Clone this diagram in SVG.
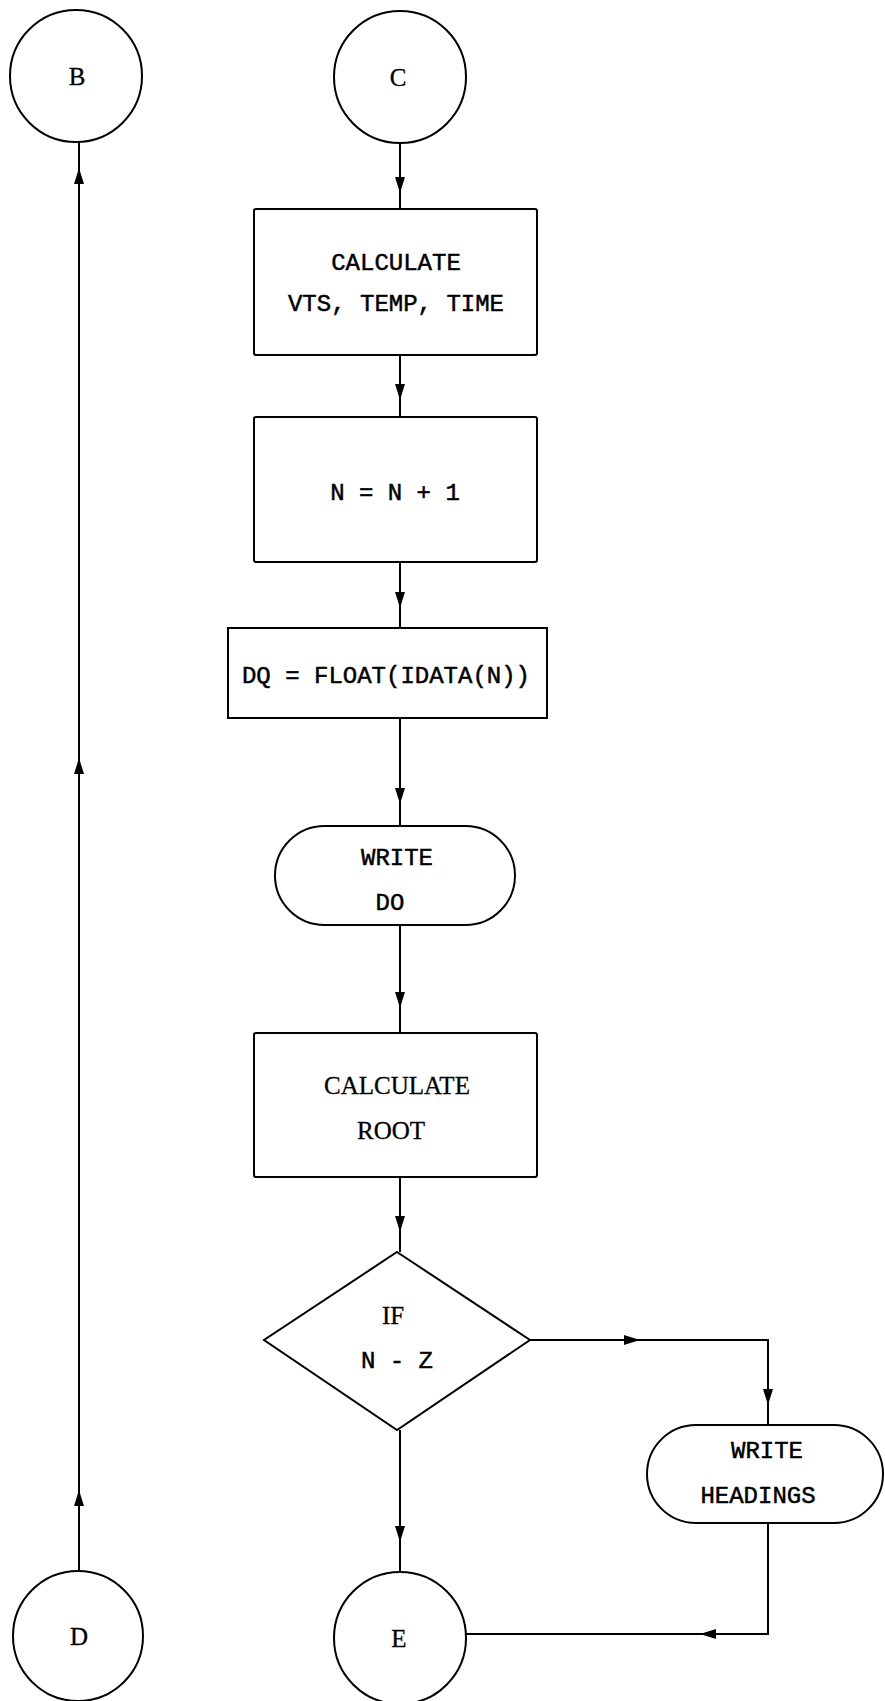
<svg xmlns="http://www.w3.org/2000/svg" xmlns:xlink="http://www.w3.org/1999/xlink" width="885" height="1701" viewBox="0 0 885 1701">
<style>
.s{fill:#fff;stroke:#000;stroke-width:2}
.c{fill:none;stroke:#000;stroke-width:2}
.t{font-family:"Liberation Mono","Courier New",monospace;font-size:24px;fill:#000;stroke:#000;stroke-width:0.5;text-anchor:middle}
.ts{font-family:"Liberation Serif","Times New Roman",serif;font-size:25px;fill:#000;stroke:#000;stroke-width:0.3;text-anchor:middle}
</style>
<defs>
<path id="ah" d="M0,0 L-16,-5 L-16,5 Z" fill="#000"/>
</defs>
<rect width="885" height="1701" fill="#fff"/>
<g id="connectors">
<line class="c" x1="79" y1="141" x2="79" y2="1570"/>
<line class="c" x1="400" y1="143" x2="400" y2="209"/>
<line class="c" x1="400" y1="355" x2="400" y2="417"/>
<line class="c" x1="400" y1="562" x2="400" y2="628"/>
<line class="c" x1="400" y1="718" x2="400" y2="826"/>
<line class="c" x1="400" y1="925" x2="400" y2="1033"/>
<line class="c" x1="400" y1="1177" x2="400" y2="1252"/>
<line class="c" x1="400" y1="1430" x2="400" y2="1571"/>
<path class="c" d="M530 1340 L768 1340 L768 1425"/>
<path class="c" d="M768 1523 L768 1634 L466 1634"/>
<use xlink:href="#ah" transform="translate(79,168) rotate(-90)"/>
<use xlink:href="#ah" transform="translate(79,758) rotate(-90)"/>
<use xlink:href="#ah" transform="translate(79,1490) rotate(-90)"/>
<use xlink:href="#ah" transform="translate(400,193) rotate(90)"/>
<use xlink:href="#ah" transform="translate(400,400) rotate(90)"/>
<use xlink:href="#ah" transform="translate(400,608) rotate(90)"/>
<use xlink:href="#ah" transform="translate(400,804) rotate(90)"/>
<use xlink:href="#ah" transform="translate(400,1008) rotate(90)"/>
<use xlink:href="#ah" transform="translate(400,1232) rotate(90)"/>
<use xlink:href="#ah" transform="translate(400,1542) rotate(90)"/>
<use xlink:href="#ah" transform="translate(640,1340)"/>
<use xlink:href="#ah" transform="translate(768,1405) rotate(90)"/>
<use xlink:href="#ah" transform="translate(700,1634) rotate(180)"/>
</g>
<g id="nodeB"><circle class="s" cx="76" cy="76" r="66"/><text class="ts" x="77" y="85">B</text></g>
<g id="nodeC"><circle class="s" cx="400" cy="77" r="66"/><text class="ts" x="398" y="86">C</text></g>
<g id="calc1"><rect class="s" x="254" y="209" width="283" height="146" rx="2"/><text class="t" x="396" y="270">CALCULATE</text><text class="t" x="396" y="311">VTS, TEMP, TIME</text></g>
<g id="incN"><rect class="s" x="254" y="417" width="283" height="145" rx="2"/><text class="t" x="395" y="500">N = N + 1</text></g>
<g id="dq"><rect class="s" x="228" y="628" width="319" height="90"/><text class="t" x="386" y="683">DQ = FLOAT(IDATA(N))</text></g>
<g id="writeDO"><rect class="s" x="275" y="826" width="240" height="99" rx="49.5"/><text class="t" x="397" y="865">WRITE</text><text class="t" x="390" y="910">DO</text></g>
<g id="calcRoot"><rect class="s" x="254" y="1033" width="283" height="144" rx="2"/><text class="ts" x="397" y="1094">CALCULATE</text><text class="ts" x="391" y="1139">ROOT</text></g>
<g id="ifNZ"><polygon class="s" points="397,1252 530,1340 397,1430 264,1340"/><text class="ts" x="393" y="1324">IF</text><text class="t" x="397" y="1368">N - Z</text></g>
<g id="writeHeadings"><rect class="s" x="647" y="1425" width="236" height="98" rx="49"/><text class="t" x="767" y="1458">WRITE</text><text class="t" x="758" y="1503">HEADINGS</text></g>
<g id="nodeD"><circle class="s" cx="78" cy="1636" r="65"/><text class="ts" x="79" y="1645">D</text></g>
<g id="nodeE"><circle class="s" cx="400" cy="1638" r="66"/><text class="ts" x="399" y="1647">E</text></g>
</svg>
